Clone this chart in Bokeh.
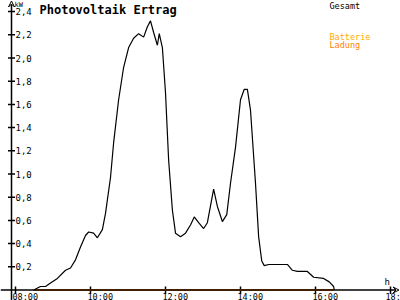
import math
from bokeh.plotting import figure
from bokeh.models import Range1d, Label, Arrow, VeeHead, ColumnDataSource
from bokeh.core.properties import value
from bokeh.embed import file_html
from bokeh.resources import INLINE

# ---- data ----
gesamt_times = ["08:29", "08:40", "08:48", "08:56", "09:07", "09:20", "09:28", "09:36",
                "09:44", "09:52", "09:57", "10:05", "10:11", "10:19", "10:24", "10:32",
                "10:37", "10:45", "10:53", "11:01", "11:09", "11:17", "11:25", "11:31",
                "11:36", "11:41", "11:47", "11:50", "11:55", "12:00", "12:05", "12:11",
                "12:16", "12:24", "12:32", "12:40", "12:46", "12:53", "13:01", "13:07",
                "13:17", "13:23", "13:31", "13:38", "13:44", "13:52", "14:00", "14:06",
                "14:11", "14:16", "14:24", "14:29", "14:34", "14:38", "14:45", "15:00",
                "15:15", "15:23", "15:31", "15:47", "15:57", "16:13", "16:22", "16:29",
                "16:30"]
gesamt_kw = [0.00, 0.03, 0.03, 0.06, 0.10, 0.17, 0.19, 0.26,
             0.37, 0.47, 0.50, 0.49, 0.45, 0.52, 0.66, 0.97,
             1.27, 1.64, 1.92, 2.09, 2.17, 2.21, 2.18, 2.27,
             2.32, 2.22, 2.11, 2.21, 2.09, 1.70, 1.12, 0.69,
             0.49, 0.46, 0.49, 0.56, 0.63, 0.58, 0.53, 0.58,
             0.87, 0.72, 0.59, 0.65, 0.92, 1.23, 1.64, 1.73,
             1.73, 1.55, 0.92, 0.46, 0.25, 0.21, 0.22, 0.22,
             0.22, 0.17, 0.16, 0.16, 0.11, 0.10, 0.07, 0.03,
             0.00]
ladung_times = ["08:29", "16:29"]
ladung_kw = [0.0, 0.0]

x_ticks = [8, 10, 12, 14, 16, 18]
x_tick_labels = ["08:00", "10:00", "12:00", "14:00", "16:00", "18:"]
y_ticks = [0.2, 0.4, 0.6, 0.8, 1.0, 1.2, 1.4, 1.6, 1.8, 2.0, 2.2, 2.4]
y_tick_labels = ["0,2", "0,4", "0,6", "0,8", "1,0", "1,2", "1,4", "1,6", "1,8", "2,0", "2,2", "2,4"]


def to_h(s):
    hh, mm = s.split(":")
    return int(hh) + int(mm) / 60.0


# ---- layout ----
W, H = 400, 300
PX_H = 37.5          # pixels per hour
PX_KW = 116.0        # pixels per kW
X0 = 10 - 90 / PX_H  # hour at left edge
Y_TOP = 289.5 / PX_KW
Y_BOT = Y_TOP - H / PX_KW

def hx(px):
    return X0 + px / PX_H

def ky(py):
    return Y_TOP - py / PX_KW

MONO = "DejaVu Sans Mono"

p = figure(width=W, height=H, output_backend="svg", toolbar_location=None,
           x_range=Range1d(X0, X0 + W / PX_H), y_range=Range1d(Y_BOT, Y_TOP),
           x_axis_location=None, y_axis_location=None, min_border=0)
p.grid.visible = False
p.outline_line_color = None
p.background_fill_color = "white"
p.border_fill_color = "white"

ax_x = hx(11)

# axes with arrows
p.add_layout(Arrow(end=VeeHead(size=6, line_width=1, fill_color=None, line_color="black"),
                   x_start=ax_x, y_start=ky(300), x_end=ax_x, y_end=ky(0.5),
                   line_color="black", line_width=1.5))
p.add_layout(Arrow(end=VeeHead(size=6, line_width=1, fill_color=None, line_color="black"),
                   x_start=hx(0), y_start=0, x_end=hx(398.5), y_end=0,
                   line_color="black", line_width=1.5))

# y ticks
p.scatter(x=[ax_x] * len(y_ticks), y=y_ticks, marker="dash", size=7,
          line_color="black", line_width=1.5)
p.text(x=[ax_x] * len(y_ticks), y=y_ticks, text=y_tick_labels, x_offset=4,
       text_font=value(MONO), text_font_size="9px", text_baseline="middle",
       text_align="left", text_color="black")

# x ticks
xs = [float(t) for t in x_ticks]
p.segment(x0=xs, y0=[ky(293.5)] * len(xs), x1=xs, y1=[ky(286)] * len(xs),
          line_color="black", line_width=1.5)
xlab = ColumnDataSource(dict(x=xs, y=[0] * len(xs), t=x_tick_labels,
                             dx=[-3] * (len(xs) - 1) + [-5]))
p.text(x="x", y="y", text="t", x_offset="dx", y_offset=6.5, source=xlab,
       text_font=value(MONO), text_font_size="8.5px", text_baseline="alphabetic",
       text_align="left", text_color="black")

# series
lad = ColumnDataSource(dict(x=[to_h(t) for t in ladung_times], y=ladung_kw))
p.line("x", "y", source=lad, line_color="#FF8000", line_width=2)
ges = ColumnDataSource(dict(x=[to_h(t) for t in gesamt_times], y=gesamt_kw))
p.line("x", "y", source=ges, line_color="black", line_width=1.2)

# texts
def lab(text, x, ytop, size, color="black", bold=False):
    p.add_layout(Label(x=x, y=H - ytop, x_units="screen", y_units="screen", text=text,
                       text_font=MONO, text_font_size=size, text_color=color,
                       text_baseline="top", text_align="left",
                       text_font_style="bold" if bold else "normal"))

lab("Photovoltaik Ertrag", 39, 2, "12px", bold=True)
lab("kW", 14, 0, "7px")
lab("h", 384, 276, "9px")
lab("Gesamt", 329, 0, "8.5px")
lab("Batterie", 329, 31, "8.5px", color="#FFAA00")
lab("Ladung", 329, 39, "8.5px", color="#FF8000")

open("out.html", "w").write(file_html(p, INLINE))
